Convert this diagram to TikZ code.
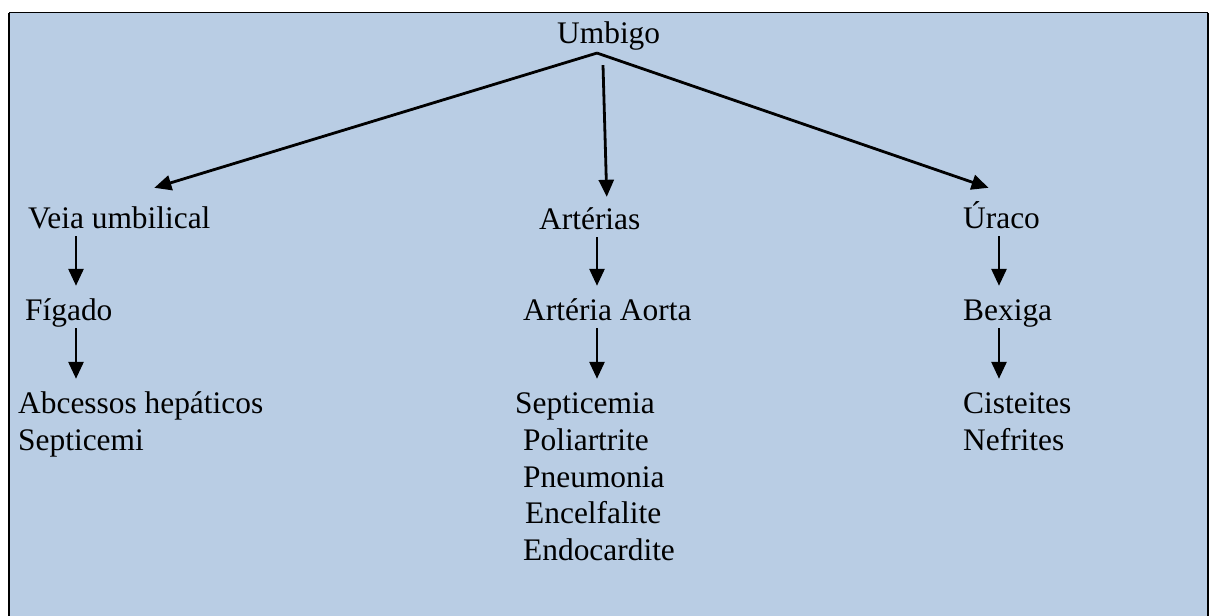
\documentclass[tikz,border=0pt]{standalone}
\usepackage{fontspec}
\setmainfont{Liberation Serif}
\usetikzlibrary{arrows.meta}
\definecolor{bgblue}{RGB}{185,205,228}
\tikzset{
  lbl/.style={anchor=base west, inner sep=0pt, text height=22pt, text depth=7.85pt,
              font=\fontsize{31.4}{37}\selectfont, text=black},
  arr/.style={line width=2.8pt, -{Triangle[length=17pt,width=15pt]}},
  frame/.style={line width=2.4pt, draw=black}
}
\begin{document}
\begin{tikzpicture}[x=1pt,y=-1pt]
\useasboundingbox (0,0) rectangle (1216,616);
\clip (0,0) rectangle (1216,616);
\fill[bgblue] (9,12.5) rectangle (1208,640);
\draw[line width=1.5pt] (9,12.5) -- (1208,12.5);
\draw[frame] (9,12.5) -- (9,640);
\draw[frame] (1208,12.5) -- (1208,640);

% column x positions
\coordinate (cL) at (76,0);
\coordinate (cM) at (597,0);
\coordinate (cR) at (999,0);

\node[lbl] (umbigo) at (557,43) {Umbigo};

\node[lbl] (veia) at (28,228) {Veia umbilical};
\node[lbl] (figado) at (25,320) {Fígado};
\node[lbl] (abc) at (18,413) {Abcessos hepáticos};
\node[lbl] (sepL) at (18,450) {Septicemi};

\node[lbl] (arterias) at (539,229) {Artérias};
\node[lbl] (aorta) at (523,320) {Artéria Aorta};
\node[lbl] (sepM) at (515,413) {Septicemia};
\node[lbl] (poli) at (523,450) {Poliartrite};
\node[lbl] (pneu) at (523,487) {Pneumonia};
\node[lbl] (ence) at (525,523) {Encelfalite};
\node[lbl] (endo) at (523,560) {Endocardite};

\node[lbl] (uraco) at (963,228) {Úraco};
\node[lbl] (bexiga) at (963,320) {Bexiga};
\node[lbl] (cist) at (963,413) {Cisteites};
\node[lbl] (nef) at (963,450) {Nefrites};

\coordinate (apex) at ([yshift=-2pt]umbigo.south -| cM);

\draw[arr] (apex) -- ([xshift=35pt,yshift=18pt]veia.north);
\draw[arr] (apex) -- ([xshift=-13pt,yshift=18pt]uraco.north);
\draw[arr] ([xshift=6pt,yshift=-12pt]apex) -- ([xshift=17pt,yshift=10pt]arterias.north);

\draw[arr] (veia.south -| cL) -- ([yshift=12pt]figado.north -| cL);
\draw[arr] (figado.south -| cL) -- ([yshift=12pt]abc.north -| cL);

\draw[arr] (arterias.south -| cM) -- ([yshift=12pt]aorta.north -| cM);
\draw[arr] (aorta.south -| cM) -- ([yshift=12pt]sepM.north -| cM);

\draw[arr] (uraco.south -| cR) -- ([yshift=12pt]bexiga.north -| cR);
\draw[arr] (bexiga.south -| cR) -- ([yshift=12pt]cist.north -| cR);
\end{tikzpicture}
\end{document}
